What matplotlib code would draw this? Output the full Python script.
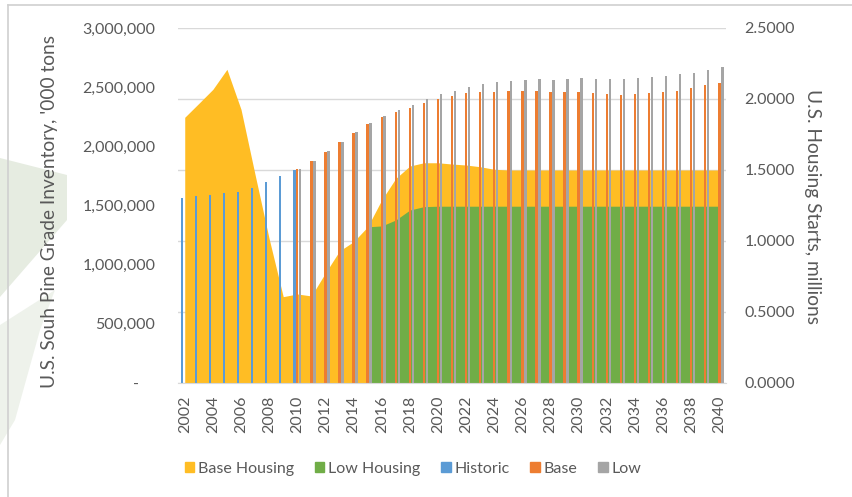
import numpy as np
import matplotlib
matplotlib.use("Agg")
import matplotlib.pyplot as plt
from matplotlib.patches import Patch, Polygon
from matplotlib.lines import Line2D
from matplotlib.ticker import FuncFormatter, MultipleLocator

nan = np.nan
years = list(range(2002, 2041))

# Inventory ('000 tons) - left axis
historic = [1561000, 1580000, 1589000, 1608000, 1617000, 1651000, 1696000,
            1752000, 1800000] + [nan] * 30
base = [nan] * 8 + [
    1811000, 1876000, 1955000, 2034000, 2115000, 2192000, 2245000, 2293000,
    2327000, 2364000, 2397000, 2425000, 2448000, 2456000, 2462000, 2468000,
    2468000, 2468000, 2462000, 2462000, 2462000, 2453000, 2442000, 2434000,
    2442000, 2453000, 2462000, 2470000, 2490000, 2518000, 2533000]
low = [nan] * 8 + [
    1811000, 1878000, 1957000, 2036000, 2117000, 2195000, 2255000, 2307000,
    2349000, 2400000, 2440000, 2470000, 2505000, 2524000, 2541000, 2552000,
    2561000, 2566000, 2561000, 2566000, 2575000, 2569000, 2566000, 2566000,
    2575000, 2583000, 2594000, 2608000, 2622000, 2645000, 2673000]

# Housing starts (millions) - right axis
base_housing = [1.871, 1.969, 2.068, 2.209, 1.927, 1.467, 1.016, 0.608, 0.627,
                0.613, 0.775, 0.930, 0.995, 1.100, 1.289, 1.441, 1.528, 1.551,
                1.551, 1.542, 1.535, 1.523, 1.505] + [1.500] * 16
low_housing = [nan] * 13 + [1.100, 1.106, 1.148, 1.218, 1.242] + [1.245] * 21

x_labels = [str(y) for y in years[::2]]

C_YEL = "#FFBD24"
C_GRN = "#70AD47"
C_BLU = "#5B9BD5"
C_ORG = "#ED7D31"
C_GRY = "#A5A5A5"
TXT = "#595959"
FONT = "Lato"

plt.rcParams["font.family"] = [FONT, "DejaVu Sans"]

W, H = 852, 497
fig = plt.figure(figsize=(W / 100, H / 100), dpi=100)

def fx(px):
    return px / W

def fy(py):
    return 1 - py / H

# faint background decoration and chart frame
for pts, col in (([(0, 158), (67, 175), (67, 220), (0, 297)], "#E6ECE1"),
                 ([(0, 325), (55, 290), (40, 330), (15, 420), (0, 445)], "#EEF2EB")):
    fig.patches.append(Polygon([(fx(a), fy(b)) for a, b in pts], closed=True,
                               transform=fig.transFigure, facecolor=col,
                               edgecolor="none", zorder=0))
fig.lines.append(Line2D([fx(8), fx(852)], [fy(5), fy(5)], transform=fig.transFigure,
                        color="#D0D0D0", lw=1.2))
fig.lines.append(Line2D([fx(8), fx(8)], [fy(5), fy(497)], transform=fig.transFigure,
                        color="#D0D0D0", lw=1.2))

L, R, T, B = 177.7, 726.4, 28, 383
ax = fig.add_axes([fx(L), fy(B), fx(R - L), (B - T) / H])
ax2 = ax.twinx()
ax.set_zorder(2)
ax2.set_zorder(1)
ax.patch.set_visible(False)
ax2.patch.set_visible(False)

yrs = np.array(years, dtype=float)
# areas (right axis)
ax2.fill_between(yrs, 0, base_housing, color=C_YEL, linewidth=0, zorder=2)
ax2.fill_between(yrs, 0, low_housing, color=C_GRN, linewidth=0, zorder=3)
ax2.set_ylim(0, 2.5)
ax2.yaxis.set_major_locator(MultipleLocator(0.5))
ax2.yaxis.set_major_formatter(FuncFormatter(lambda v, p: f"{v:.4f}"))
ax2.grid(axis="y", color="#D9D9D9", lw=1.0, zorder=0)
ax2.set_axisbelow(True)

# bars (left axis)
bw = 0.17
off = 0.21
ax.bar(yrs - off, historic, width=bw, color=C_BLU, linewidth=0)
ax.bar(yrs, base, width=bw, color=C_ORG, linewidth=0)
ax.bar(yrs + off, low, width=bw, color=C_GRY, linewidth=0)
ax.set_ylim(0, 3000000)
ax.yaxis.set_major_locator(MultipleLocator(500000))
ax.yaxis.set_major_formatter(FuncFormatter(
    lambda v, p: "-    " if abs(v) < 1 else f"{int(round(v)):,}"))
ax.set_xlim(2001.5, 2040.5)
ax.set_xticks(yrs[::2])
ax.set_xticklabels(x_labels, rotation=90)

for a in (ax, ax2):
    for s in a.spines.values():
        s.set_visible(False)
    a.tick_params(length=0, colors=TXT, labelsize=11.5)
ax.spines["bottom"].set_visible(True)
ax.spines["bottom"].set_color("#D9D9D9")
ax.tick_params(axis="y", pad=16)
ax.tick_params(axis="x", pad=9)
ax2.tick_params(axis="y", pad=13)

ax.set_ylabel("U.S. Souh Pine Grade Inventory, '000 tons", color=TXT, fontsize=13.8)
ax.yaxis.set_label_coords((58 - L) / (R - L), (B - 212) / (B - T))
ax2.set_ylabel("U.S. Housing Starts, millions", color=TXT, fontsize=13.8,
               rotation=-90, va="center")
ax2.yaxis.set_label_coords((812 - L) / (R - L), (B - 207) / (B - T))

handles = [Patch(color=C_YEL, label="Base Housing"),
           Patch(color=C_GRN, label="Low Housing"),
           Patch(color=C_BLU, label="Historic"),
           Patch(color=C_ORG, label="Base"),
           Patch(color=C_GRY, label="Low")]
fig.legend(handles=handles, loc="center", bbox_to_anchor=(fx(413), fy(469)),
           ncol=5, frameon=False, fontsize=11.5, handlelength=0.6,
           handleheight=0.6, handletextpad=0.25, columnspacing=1.28,
           labelcolor=TXT)

fig.savefig("out.png", dpi=100)
